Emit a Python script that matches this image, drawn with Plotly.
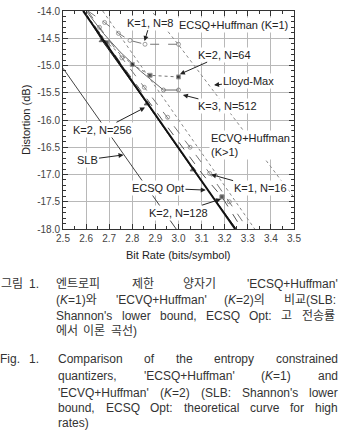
import re
import plotly.graph_objects as go

# ---------------- data ----------------
x_tick_vals = [2.5, 2.6, 2.7, 2.8, 2.9, 3.0, 3.1, 3.2, 3.3, 3.4, 3.5]
x_tick_text = ["2.5", "2.6", "2.7", "2.8", "2.9", "3.0", "3.1", "3.2", "3.3", "3.4", "3.5"]
y_tick_vals = [-14.0, -14.5, -15.0, -15.5, -16.0, -16.5, -17.0, -17.5, -18.0]
y_tick_text = ["-14.0", "-14.5", "-15.0", "-15.5", "-16.0", "-16.5", "-17.0", "-17.5", "-18.0"]

slb_rate = [2.5, 2.99]
slb_dist = [-15.05, -18.0]

opt_rate = [2.587, 3.245]
opt_dist = [-14.0, -18.0]

lloyd_rate = [2.0, 3.0, 4.0]
lloyd_dist = [-9.30, -14.62, -20.22]

k1n8_rate = [2.608, 2.68, 2.74, 2.79, 2.855, 3.0]
k1n8_dist = [-14.0, -14.21, -14.41, -14.54, -14.61, -14.61]

k1n16_rate = [2.607, 2.658, 2.755, 2.852, 2.953, 3.05, 3.135, 3.22, 3.30]
k1n16_dist = [-14.0, -14.3, -14.86, -15.4, -15.95, -16.5, -16.98, -17.5, -18.0]

k1hi_rate = [2.672, 3.33]
k1hi_dist = [-14.0, -18.0]

k2n64_rate = [2.59, 2.69, 2.80, 2.877, 3.0]
k2n64_dist = [-14.0, -14.58, -14.98, -15.18, -15.21]

k2n128_rate = [2.59, 2.757, 2.93, 3.105, 3.188, 3.275]
k2n128_dist = [-14.0, -15.0, -16.0, -17.0, -17.41, -18.0]

k2n256_rate = [2.59, 2.669, 2.864, 3.063, 3.25]
k2n256_dist = [-14.0, -14.54, -15.70, -16.91, -18.0]

k3n512_rate = [2.60, 2.675, 2.747, 2.835, 2.935, 3.0]
k3n512_dist = [-14.0, -14.41, -14.75, -15.10, -15.45, -15.45]

caption_ko = [
    ["엔트로피", "제한", "양자기", "'ECSQ+Huffman'"],
    ["(<i>K</i>=1)와", "'ECVQ+Huffman'", "(<i>K</i>=2)의", "비교(SLB:"],
    ["Shannon's", "lower", "bound,", "ECSQ", "Opt:", "고", "전송률"],
    ["에서", "이론", "곡선)"],
]
caption_en = [
    ["Comparison", "of", "the", "entropy", "constrained"],
    ["quantizers,", "'ECSQ+Huffman'", "(<i>K</i>=1)", "and"],
    ["'ECVQ+Huffman'", "(<i>K</i>=2)", "(SLB:", "Shannon's", "lower"],
    ["bound,", "ECSQ", "Opt:", "theoretical", "curve", "for", "high"],
    ["rates)"],
]
caption_justify_ko = [True, True, True, False]
caption_justify_en = [True, True, True, True, False]

# ---------------- layout helpers ----------------
W, H = 339, 447
L, R, T, B = 63, 45, 5, 218
PW, PH = W - L - R, H - T - B
FONT = "Liberation Sans, Arial, Noto Sans CJK KR"

# approximate Arial/Liberation Sans advance widths (per 1000 em)
CW = {' ': 278, "'": 191, '(': 333, ')': 333, '+': 584, ',': 278, '.': 278, ':': 278,
      '=': 584, '1': 556, '2': 556, 'B': 667, 'C': 722, 'E': 667, 'H': 722, 'K': 667,
      'L': 556, 'O': 778, 'Q': 778, 'S': 667, 'V': 667, 'a': 556, 'b': 556, 'c': 500,
      'd': 556, 'e': 556, 'f': 278, 'g': 556, 'h': 556, 'i': 222, 'l': 222, 'm': 833,
      'n': 556, 'o': 556, 'p': 556, 'q': 556, 'r': 333, 's': 500, 't': 278, 'u': 556,
      'v': 500, 'w': 722, 'y': 500, 'z': 500}


def text_width(s, size):
    s = re.sub(r"<[^>]+>", "", s)
    w = 0
    for ch in s:
        if ord(ch) > 0x2000:
            w += 1000
        else:
            w += CW.get(ch, 556)
    return w * size / 1000.0


def paper(px, py):
    return (px - L) / PW, (T + PH - py) / PH


fig = go.Figure()


def add_line(xs, ys, color, width, dash, symbol=None, msize=5, mfill=None, sizes=None):
    mode = "lines" if symbol is None else "lines+markers"
    marker = None
    if symbol is not None:
        marker = dict(symbol=symbol, size=sizes if sizes is not None else msize,
                      color=mfill if mfill else color,
                      line=dict(color=color, width=1))
    fig.add_trace(go.Scatter(x=xs, y=ys, mode=mode,
                             line=dict(color=color, width=width, dash=dash),
                             marker=marker, showlegend=False, hoverinfo="skip"))


add_line(slb_rate, slb_dist, "#444", 1, "solid")
add_line(lloyd_rate, lloyd_dist, "#888", 1, "dot")
add_line(k1hi_rate, k1hi_dist, "#888", 1, "dot")
add_line(k1n16_rate, k1n16_dist, "#777", 1, "dash", "circle-open", sizes=[0, 4, 4, 4, 4, 4, 4, 4, 0])
add_line(k1n8_rate, k1n8_dist, "#777", 1, "dash", "circle-open", sizes=[0, 4, 4, 4, 4, 4])
add_line(k3n512_rate, k3n512_dist, "#666", 1, "solid", "circle-open", sizes=[0, 0, 0, 0, 4, 4])
add_line(k2n64_rate, k2n64_dist, "#777", 1, "dot", "square", sizes=[0, 4, 4, 4, 4], mfill="#111")
add_line(k2n128_rate, k2n128_dist, "#555", 1, "dash", "square", sizes=[0, 0, 0, 0, 4, 0], mfill="#111")
add_line(k2n256_rate, k2n256_dist, "#222", 1, "solid", "triangle-up", sizes=[0, 5, 5, 5, 0], mfill="#111")
add_line(opt_rate, opt_dist, "#111", 2, "solid")

# ---------------- labels with arrows ----------------
labels = [
    # text, head(x,y), text-center(x,y)
    ("K=1, N=8", (2.853, -14.55), (2.877, -14.214)),
    ("K=2, N=64", (3.006, -15.16), (3.197, -14.80)),
    ("Lloyd-Max", (3.154, -15.36), (3.305, -15.286)),
    ("K=3, N=512", (3.019, -15.54), (3.214, -15.75)),
    ("K=1, N=16", (3.141, -17.0), (3.353, -17.25)),
    ("K=2, N=128", (3.184, -17.45), (3.002, -17.70)),
    ("ECSQ Opt", (3.118, -17.286), (2.911, -17.25)),
    ("SLB", (2.762, -16.64), (2.604, -16.73)),
    ("K=2, N=256", (2.855, -15.77), (2.669, -16.18)),
]
for txt, head, tail in labels:
    fig.add_annotation(x=head[0], y=head[1], ax=tail[0], ay=tail[1],
                       xref="x", yref="y", axref="x", ayref="y",
                       text=txt, showarrow=True, arrowhead=2, arrowsize=1,
                       arrowwidth=1, arrowcolor="#222", bgcolor="white",
                       borderpad=1, font=dict(family=FONT, size=11, color="#222"))

fig.add_annotation(x=3.236, y=-14.25, xref="x", yref="y", text="ECSQ+Huffman (K=1)",
                   showarrow=False, bgcolor="white", borderpad=1,
                   font=dict(family=FONT, size=11, color="#222"))
fig.add_annotation(x=3.13, y=-16.45, xref="x", yref="y", text="ECVQ+Huffman<br>(K>1)",
                   showarrow=False, bgcolor="white", borderpad=1, xanchor="left", align="left",
                   font=dict(family=FONT, size=11, color="#222"))

# ---------------- axis titles ----------------
px_, py_ = paper(26, 117)
fig.add_annotation(x=px_, y=py_, xref="paper", yref="paper", text="Distortion (dB)",
                   textangle=-90, showarrow=False, xanchor="center", yanchor="middle",
                   font=dict(family=FONT, size=11, color="#222"))
px_, py_ = paper(178, 256)
fig.add_annotation(x=px_, y=py_, xref="paper", yref="paper", text="Bit Rate (bits/symbol)",
                   showarrow=False, xanchor="center", yanchor="middle",
                   font=dict(family=FONT, size=11, color="#222"))

# ---------------- caption (justified lines) ----------------
CAP_SIZE = 12
CAP = dict(family=FONT, size=CAP_SIZE, color="#333")


def cap_word(txt, x, y, anchor="left"):
    px_, py_ = paper(x, y)
    fig.add_annotation(x=px_, y=py_, xref="paper", yref="paper", text=txt,
                       showarrow=False, xanchor=anchor, yanchor="middle",
                       borderpad=0, font=CAP)


def cap_line(words, left, right, y, justify):
    widths = [text_width(w, CAP_SIZE) for w in words]
    if justify and len(words) > 1:
        gap = (right - left - sum(widths)) / (len(words) - 1)
    else:
        gap = text_width(" ", CAP_SIZE)
    x = left
    for w, wd in zip(words, widths):
        cap_word(w, x, y)
        x += wd + gap


cap_word("그림", 0, 286)
cap_word("1.", 28, 286)
cap_word("Fig.", -1, 363)
cap_word("1.", 28, 363)

ko_y = [286, 302, 318, 334]
en_y = [363, 380, 397, 413, 428]
for words, y, j in zip(caption_ko, ko_y, caption_justify_ko):
    cap_line(words, 55, 337, y, j)
for words, y, j in zip(caption_en, en_y, caption_justify_en):
    cap_line(words, 57, 337, y, j)

# ---------------- axes ----------------
axis_common = dict(showline=True, linecolor="#333", linewidth=1, mirror="allticks",
                   ticks="inside", ticklen=5, tickcolor="#333", showgrid=True,
                   gridcolor="#b8b8b8", gridwidth=1, zeroline=False,
                   ticklabeloverflow="allow",
                   tickfont=dict(family=FONT, size=10, color="#444"))
fig.update_xaxes(range=[2.5, 3.5], tickvals=x_tick_vals, ticktext=x_tick_text,
                 minor=dict(dtick=0.05, tick0=2.5, ticks="inside", ticklen=3,
                            tickcolor="#333", showgrid=False),
                 **axis_common)
fig.update_yaxes(range=[-18.0, -14.0], tickvals=y_tick_vals, ticktext=y_tick_text,
                 minor=dict(dtick=0.1, tick0=-18.0, ticks="inside", ticklen=3,
                            tickcolor="#333", showgrid=False),
                 **axis_common)

fig.update_layout(width=W, height=H, margin=dict(l=L, r=R, t=T, b=B),
                  plot_bgcolor="white", paper_bgcolor="white")

fig.write_html("out.html")
